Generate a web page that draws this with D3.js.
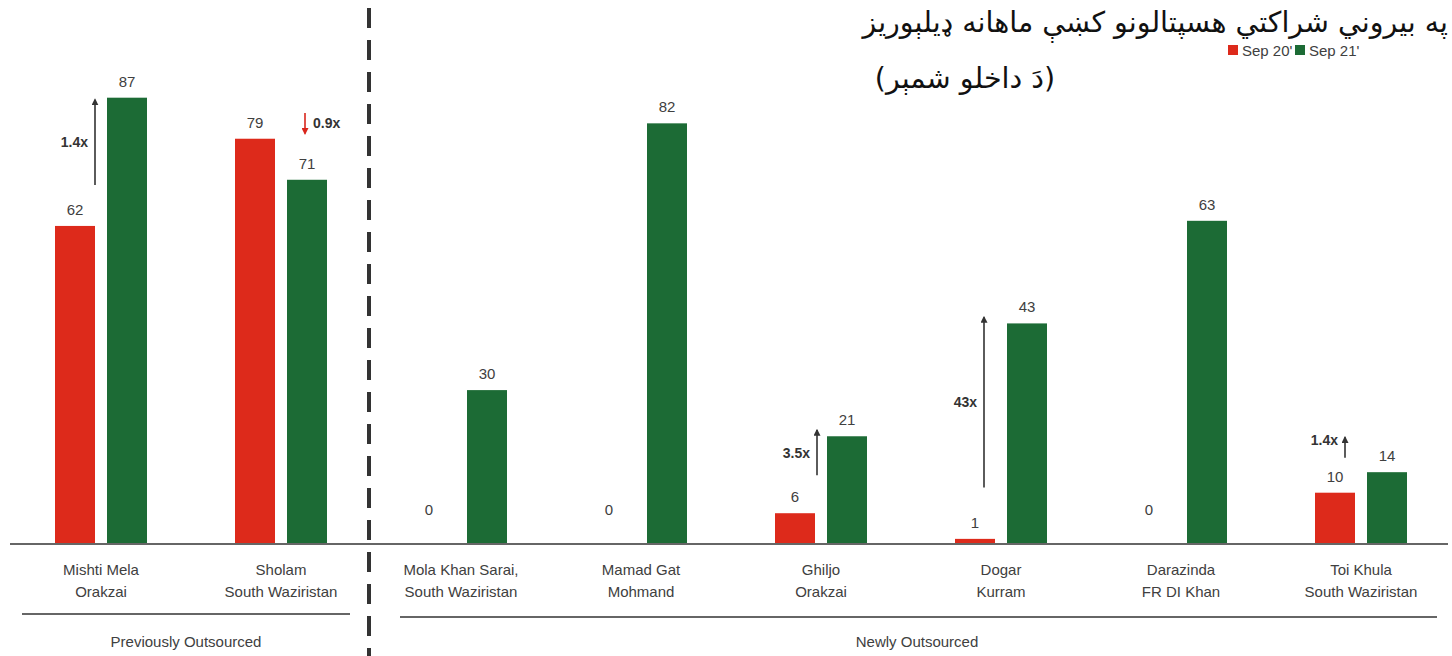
<!DOCTYPE html>
<html>
<head>
<meta charset="utf-8">
<script src="https://cdn.jsdelivr.net/npm/d3@7"></script>
<style>
  html, body { margin: 0; padding: 0; background: #fff; }
  svg { display: block; }
</style>
</head>
<body>
<svg id="chart" width="1452" height="656"></svg>
<script>
// ---------- data ----------
const categories = [
  "Mishti Mela|Orakzai",
  "Sholam|South Waziristan",
  "Mola Khan Sarai,|South Waziristan",
  "Mamad Gat|Mohmand",
  "Ghiljo|Orakzai",
  "Dogar|Kurram",
  "Darazinda|FR DI Khan",
  "Toi Khula|South Waziristan"
];
const seriesNames = ["Sep 20'", "Sep 21'"];
const sep20 = [62, 79, 0, 0, 6, 1, 0, 10];
const sep21 = [87, 71, 30, 82, 21, 43, 63, 14];

const groupNames = ["Previously Outsourced", "Newly Outsourced"];

// change annotations: category index, label, arrow from/to (in data units)
const annCategory = [0, 1, 4, 5, 7];
const annLabel = ["1.4x", "0.9x", "3.5x", "43x", "1.4x"];
const annFrom = [70, 84, 13.4, 11, 16.8];
const annTo = [86.6, 80, 22.2, 44.2, 20.8];

const titleLine1 = "په بیروني شراکتي هسپتالونو کښې ماهانه ډیلېوریز";
const titleLine2 = "(دَ داخلو شمېر)";

// ---------- layout ----------
const svg = d3.select("#chart");
const baseY = 544;
const colors = { "Sep 20'": "#dd2a1b", "Sep 21'": "#1c6b35" };
const textColor = "#404040";
const labelFont = "'Liberation Sans', Arial, sans-serif";

const x = d3.scaleBand().domain(categories).range([11, 1451]).padding(0);
const xs = d3.scaleBand().domain(seriesNames).range([44, 136]).paddingInner(12 / 52).paddingOuter(0);
const y = d3.scaleLinear().domain([0, 100]).range([baseY, baseY - 513]);

// bars
const rows = categories.map((c, i) => ({ cat: c, vals: [
  { s: seriesNames[0], v: sep20[i] },
  { s: seriesNames[1], v: sep21[i] }
]}));

const g = svg.append("g");
const grp = g.selectAll("g.grp").data(rows).join("g")
  .attr("class", "grp")
  .attr("transform", d => `translate(${x(d.cat)},0)`);

grp.selectAll("rect").data(d => d.vals.filter(e => e.v > 0)).join("rect")
  .attr("x", e => xs(e.s))
  .attr("width", xs.bandwidth())
  .attr("y", e => y(e.v))
  .attr("height", e => baseY - y(e.v))
  .attr("fill", e => colors[e.s]);

grp.selectAll("text.val").data(d => d.vals).join("text")
  .attr("class", "val")
  .attr("x", e => xs(e.s) + xs.bandwidth() / 2 - (e.v === 0 ? 6 : 0))
  .attr("y", e => e.v === 0 ? baseY - 29 : y(e.v) - 11)
  .attr("text-anchor", "middle")
  .attr("font-family", labelFont)
  .attr("font-size", 15)
  .attr("fill", textColor)
  .text(e => e.v);

// axis baseline
const xAxis = d3.axisBottom(x).tickSize(0).tickFormat("");
const axG = svg.append("g").attr("transform", `translate(0,${baseY})`).call(xAxis);
axG.select(".domain").attr("d", "M10,0H1448").attr("stroke", "#666").attr("stroke-width", 2);

// category labels
const catG = svg.append("g");
categories.forEach(c => {
  const parts = c.split("|");
  const t = catG.append("text")
    .attr("x", x(c) + x.bandwidth() / 2)
    .attr("y", 575)
    .attr("text-anchor", "middle")
    .attr("font-family", labelFont)
    .attr("font-size", 15)
    .attr("fill", textColor);
  parts.forEach((p, k) => t.append("tspan")
    .attr("x", x(c) + x.bandwidth() / 2)
    .attr("dy", k === 0 ? 0 : 22)
    .text(p));
});

// dashed divider between groups
const divX = x(categories[2]) - 2;
svg.append("line")
  .attr("x1", divX).attr("x2", divX)
  .attr("y1", 8).attr("y2", 656)
  .attr("stroke", "#333").attr("stroke-width", 4)
  .attr("stroke-dasharray", "20,12");

// group underlines and labels
const groupSpans = [[22, 350, 614], [400, 1437, 617]];
const groupLabelX = [186, 917];
groupNames.forEach((nm, i) => {
  const [a, b, ly] = groupSpans[i];
  svg.append("line").attr("x1", a).attr("x2", b).attr("y1", ly).attr("y2", ly)
    .attr("stroke", "#333").attr("stroke-width", 1.6);
  svg.append("text")
    .attr("x", groupLabelX[i]).attr("y", 647)
    .attr("text-anchor", "middle")
    .attr("font-family", labelFont)
    .attr("font-size", 15)
    .attr("fill", textColor)
    .text(nm);
});

// annotations
const defs = svg.append("defs");
function marker(id, col) {
  defs.append("marker").attr("id", id)
    .attr("viewBox", "0 0 10 10").attr("refX", 8).attr("refY", 5)
    .attr("markerWidth", 7).attr("markerHeight", 7)
    .attr("markerUnits", "userSpaceOnUse")
    .attr("orient", "auto")
    .append("path").attr("d", "M0,0L10,5L0,10Z").attr("fill", col);
}
marker("arrDark", "#333");
marker("arrRed", "#d9261c");

// horizontal placement of each annotation arrow, relative to its group
const annDx = [84, 114, 86, 73, 74];
annCategory.forEach((ci, k) => {
  const down = annTo[k] < annFrom[k];
  const col = down ? "#d9261c" : "#333";
  const ax = x(categories[ci]) + annDx[k];
  svg.append("line")
    .attr("x1", ax).attr("x2", ax)
    .attr("y1", y(annFrom[k])).attr("y2", y(annTo[k]))
    .attr("stroke", col).attr("stroke-width", 1.6)
    .attr("marker-end", `url(#${down ? "arrRed" : "arrDark"})`);
  const midY = (y(annFrom[k]) + y(annTo[k])) / 2;
  svg.append("text")
    .attr("x", down ? ax + 8 : ax - 7)
    .attr("y", (k === 4 ? y(annTo[k]) + 3 : midY) + 5)
    .attr("text-anchor", down ? "start" : "end")
    .attr("font-family", labelFont)
    .attr("font-weight", "bold")
    .attr("font-size", 14)
    .attr("fill", "#333")
    .text(annLabel[k]);
});

// title
svg.append("text")
  .attr("x", 1448).attr("y", 32)
  .attr("text-anchor", "end")
  .attr("font-family", "'DejaVu Sans', 'Noto Sans', sans-serif")
  .attr("font-size", 28.5)
  .attr("fill", "#111")
  .text(titleLine1);
svg.append("text")
  .attr("x", 1055).attr("y", 88)
  .attr("text-anchor", "end")
  .attr("font-family", "'DejaVu Sans', 'Noto Sans', sans-serif")
  .attr("font-size", 28.5)
  .attr("fill", "#111")
  .text(titleLine2);

// legend
const leg = svg.append("g");
const legX = [1228, 1295];
seriesNames.forEach((s, i) => {
  leg.append("rect").attr("x", legX[i]).attr("y", 45).attr("width", 10).attr("height", 10)
    .attr("fill", colors[s]);
  leg.append("text").attr("x", legX[i] + 14).attr("y", 56)
    .attr("font-family", labelFont).attr("font-size", 15).attr("fill", textColor)
    .text(s);
});
</script>
</body>
</html>
